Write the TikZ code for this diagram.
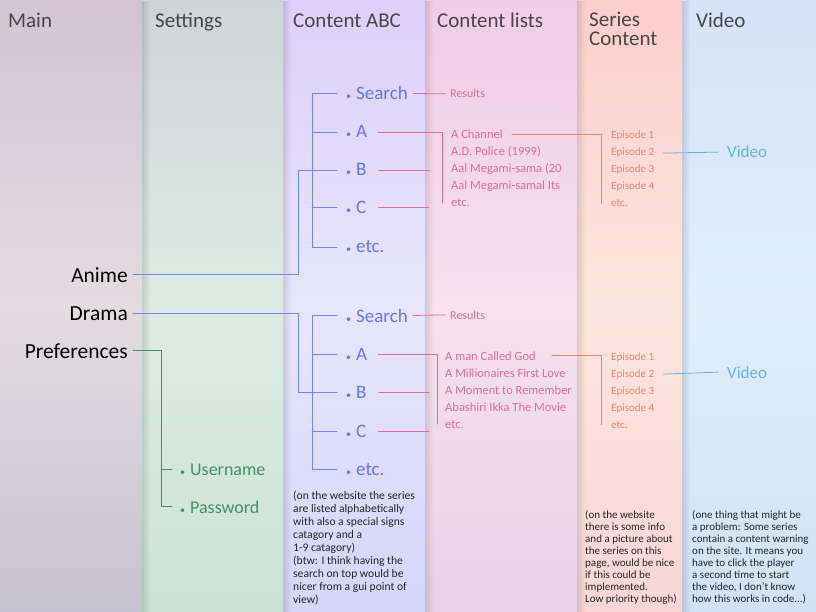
\documentclass[tikz,border=0pt]{standalone}
\usepackage{fontspec}
\setmainfont{Carlito}
\usetikzlibrary{fadings}
% column backgrounds (top / middle / bottom)
\definecolor{maintop}{RGB}{210,196,210}\definecolor{mainmid}{RGB}{226,220,224}\definecolor{mainbot}{RGB}{198,195,208}
\definecolor{settop}{RGB}{207,212,215}\definecolor{setmid}{RGB}{222,235,228}\definecolor{setbot}{RGB}{204,226,214}
\definecolor{abctop}{RGB}{221,208,250}\definecolor{abcmid}{RGB}{231,230,252}\definecolor{abcbot}{RGB}{212,214,250}
\definecolor{lsttop}{RGB}{240,204,232}\definecolor{lstmid}{RGB}{246,225,236}\definecolor{lstbot}{RGB}{232,210,232}
\definecolor{sertop}{RGB}{252,206,206}\definecolor{sermid}{RGB}{252,229,222}\definecolor{serbot}{RGB}{250,214,214}
\definecolor{vidtop}{RGB}{214,226,248}\definecolor{vidmid}{RGB}{223,238,250}\definecolor{vidbot}{RGB}{208,226,246}
% text and line colours
\definecolor{abcblue}{RGB}{100,118,238}
\definecolor{lstpink}{RGB}{224,108,150}
\definecolor{serorange}{RGB}{242,132,98}
\definecolor{vidblue}{RGB}{95,182,230}
\definecolor{setgreen}{RGB}{62,148,100}
\newcommand\bul{{\fontsize{10}{10}\selectfont\textbullet}\hspace{5pt}}
\tikzset{
  head/.style={anchor=base west,inner sep=0,font=\fontsize{21}{17}\selectfont,text=black!72},
  mainitem/.style={anchor=base east,inner sep=0,font=\fontsize{21.5}{21.5}\selectfont,text=black},
  abcitem/.style={anchor=base west,inner sep=0,font=\fontsize{19}{19}\selectfont,text=abcblue},
  setitem/.style={anchor=base west,inner sep=0,font=\fontsize{18}{18}\selectfont,text=setgreen},
  lstitem/.style={anchor=base west,inner sep=0,font=\fontsize{12.5}{12.5}\selectfont,text=lstpink},
  seritem/.style={anchor=base west,inner sep=0,font=\fontsize{11}{11}\selectfont,text=serorange},
  viditem/.style={anchor=base west,inner sep=0,font=\fontsize{17}{17}\selectfont,text=vidblue},
  note/.style={anchor=north west,inner sep=0,align=left,text=black!85},
  abcline/.style={draw=abcblue!90,line width=.8pt},
  lstline/.style={draw=lstpink,line width=.8pt},
  serline/.style={draw=serorange,line width=.8pt},
  vidline/.style={draw=vidblue,line width=.8pt},
  setline/.style={draw=setgreen,line width=.8pt},
}
\begin{document}
\begin{tikzpicture}[x=1pt,y=-1pt,line cap=round]
  \useasboundingbox (0,0) rectangle (816,612);
  \foreach \xa/\xb/\c in {0/142/main,142/283/set,283/425/abc,425/577/lst,577/682/ser,682/816/vid}{
    \shade[top color=\c top,bottom color=\c mid] (\xa,0) rectangle (\xb,306);
    \shade[top color=\c mid,bottom color=\c bot] (\xa,306) rectangle (\xb,612);
  }
  \foreach \xa in {142,283,425,577,682}
    \fill[black,fill opacity=.12,path fading=east] (\xa,0) rectangle ++(8,612);
  % headers
  \node[head] (hmain) at (8,28) {Main};
  \node[head] (hset) at (155,28) {Settings};
  \node[head] (habc) at (293,28) {Content ABC};
  \node[head] (hlst) at (437,28) {Content lists};
  \node[head] (hser) at (589,27) {Series};
  \node[head] (hser2) at (589,46) {Content};
  \node[head] (hvid) at (696,28) {Video};
  % main column
  \node[mainitem] (anime) at (128,282) {Anime};
  \node[mainitem] (drama) at (128,320) {Drama};
  \node[mainitem] (prefs) at (128,358) {Preferences};
  % settings
  \node[setitem] (user) at (180,475) {\bul Username};
  \node[setitem] (pass) at (180,513) {\bul Password};
  \draw[setline] ([xshift=5pt]prefs.east) -| ([xshift=-19pt]pass.west) -- ([xshift=-8pt]pass.west);
  \draw[setline] ([xshift=-19pt]user.west) -- ([xshift=-8pt]user.west);
  % content ABC, anime
  \node[abcitem] (aS) at (346,100) {\bul Search};
  \node[abcitem] (aA) at (346,138) {\bul A};
  \node[abcitem] (aB) at (346,176) {\bul B};
  \node[abcitem] (aC) at (346,214) {\bul C};
  \node[abcitem] (aE) at (346,253) {\bul etc.};
  % content ABC, drama
  \node[abcitem] (dS) at (346,322) {\bul Search};
  \node[abcitem] (dA) at (346,360) {\bul A};
  \node[abcitem] (dB) at (346,398) {\bul B};
  \node[abcitem] (dC) at (346,437) {\bul C};
  \node[abcitem] (dE) at (346,475) {\bul etc.};
  \foreach \p in {a,d}{
    \draw[abcline] ([xshift=-9pt]\p S.west) -| ([xshift=-34pt]\p E.west) -- ([xshift=-9pt]\p E.west);
    \foreach \q in {A,B,C}
      \draw[abcline] ([xshift=-34pt]\p\q.west) -- ([xshift=-9pt]\p\q.west);
  }
  \draw[abcline] ([xshift=5pt]anime.east) -| ([xshift=-48pt]aB.west) -- ([xshift=-9pt]aB.west);
  \draw[abcline] ([xshift=5pt]drama.east) -| ([xshift=-48pt]dB.west) -- ([xshift=-9pt]dB.west);
  % content lists
  \node[lstitem,font=\fontsize{12}{12}\selectfont] (ares) at (450,98) {Results};
  \node[lstitem,font=\fontsize{12}{12}\selectfont] (dres) at (450,319) {Results};
  \foreach \t [count=\i] in {A Channel,A.D. Police (1999),Aal Megami-sama (20,Aal Megami-samal Its,etc.}
    \node[lstitem] (al\i) at (451,{122+17*\i}) {\t};
  \foreach \t [count=\i] in {A man Called God,A Millionaires First Love,A Moment to Remember,Abashiri Ikka The Movie,etc.}
    \node[lstitem] (dl\i) at (445,{343+17*\i}) {\t};
  \draw[lstline] ([xshift=5pt]aS.east) -- ([xshift=-5pt]ares.west);
  \draw[lstline] ([xshift=5pt]dS.east) -- ([xshift=-5pt]dres.west);
  \draw[lstline] ([xshift=11pt]aA.east) -| ([xshift=-9pt]al5.west);
  \draw[lstline] ([xshift=11pt]dA.east) -| ([xshift=-8pt]dl5.west);
  \foreach \p in {a,d}
    \foreach \q in {B,C}
      \draw[lstline] ([xshift=12pt]\p\q.east) -- ++(50,0);
  % series content
  \foreach \t [count=\i] in {Episode 1,Episode 2,Episode 3,Episode 4,etc.}{
    \node[seritem] (ae\i) at (611,{122+17*\i}) {\t};
    \node[seritem] (de\i) at (611,{343+17*\i}) {\t};
  }
  \draw[serline] ([xshift=9pt]al1.east) -| ([xshift=-10pt]ae5.west);
  \draw[serline] ([xshift=16pt]dl1.east) -| ([xshift=-10pt]de5.west);
  % video
  \node[viditem] (avid) at (727,158) {Video};
  \node[viditem] (dvid) at (727,378) {Video};
  \draw[vidline] ([xshift=9pt]ae2.east) -- ([xshift=-9pt]avid.west);
  \draw[vidline] ([xshift=9pt]de2.east) -- ([xshift=-9pt]dvid.west);
  % notes
  \node[note,font=\fontsize{11.6}{13}\selectfont] (abcnote) at (293,491) {(on the website the series\\are listed alphabetically\\with also a special signs\\catagory and a\\1-9 catagory)\\(btw: I think having the\\search on top would be\\nicer from a gui point of\\view)};
  \node[note,font=\fontsize{11}{12.1}\selectfont] (sernote) at (585,510) {(on the website\\there is some info\\and a picture about\\the series on this\\page, would be nice\\if this could be\\implemented.\\Low priority though)};
  \node[note,font=\fontsize{11}{12.1}\selectfont] (vidnote) at (692,510) {(one thing that might be\\a problem: Some series\\contain a content warning\\on the site. It means you\\have to click the player\\a second time to start\\the video, I don't know\\how this works in code...)};
\end{tikzpicture}
\end{document}
